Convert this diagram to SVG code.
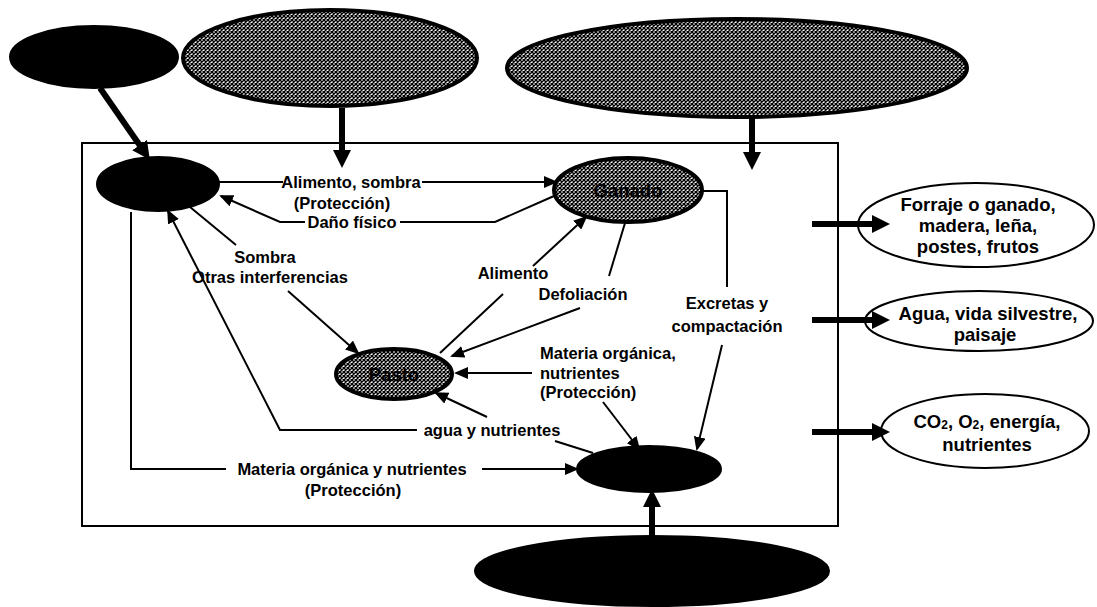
<svg xmlns="http://www.w3.org/2000/svg" width="1097" height="607" viewBox="0 0 1097 607">
<style>
.lbl{font-family:"Liberation Sans",Arial,sans-serif;font-weight:bold;font-size:16.5px;fill:#000;dominant-baseline:central}
.out{font-family:"Liberation Sans",Arial,sans-serif;font-weight:bold;font-size:18.5px;fill:#000;text-anchor:middle;dominant-baseline:central}
.mid{text-anchor:middle}
.thin{fill:none;stroke:#000;stroke-width:2}
.thinA{fill:none;stroke:#000;stroke-width:2;marker-end:url(#ah)}
.thick{fill:none;stroke:#000;stroke-width:6;marker-end:url(#ahb)}
.blk{fill:#000;stroke:#000;stroke-width:2}
.hat{fill:url(#hatch);stroke:#000;stroke-width:4}
.outE{fill:#fff;stroke:#000;stroke-width:2}
</style>
<defs>
<pattern id="hatch" patternUnits="userSpaceOnUse" width="4" height="4">
<rect width="4" height="4" fill="#fff"/>
<path d="M0,0 L4,4 M4,0 L0,4" stroke="#000" stroke-width="1.4"/>
</pattern>
<marker id="ah" markerUnits="userSpaceOnUse" markerWidth="15" markerHeight="12" refX="12" refY="6" orient="auto">
<path d="M0,0 L14,6 L0,12 z" fill="#000"/>
</marker>
<marker id="ahb" markerUnits="userSpaceOnUse" markerWidth="19" markerHeight="18" refX="6" refY="9" orient="auto">
<path d="M0,0 L18,9 L0,18 z" fill="#000"/>
</marker>
</defs>
<rect x="82" y="143" width="756" height="383" fill="none" stroke="#000" stroke-width="2"/>
<g id="n-topleft"><ellipse class="blk" cx="94" cy="57" rx="84" ry="31"/></g>
<g id="n-topmid"><ellipse class="hat" cx="330" cy="58" rx="147" ry="48"/></g>
<g id="n-topright"><ellipse class="hat" cx="737" cy="68" rx="230" ry="49"/></g>
<g id="n-arbol"><ellipse class="blk" cx="158" cy="184" rx="61" ry="27"/></g>
<g id="n-ganado"><ellipse class="hat" cx="628" cy="190" rx="74" ry="32" stroke-width="3"/><text class="out" x="628" y="190" fill="#222">Ganado</text></g>
<g id="n-pasto"><ellipse class="hat" cx="394" cy="374" rx="58" ry="25" stroke-width="3"/><text class="out" x="394" y="374" fill="#222">Pasto</text></g>
<g id="n-suelo"><ellipse class="blk" cx="649" cy="469" rx="72" ry="23"/></g>
<g id="n-bottom"><ellipse class="blk" cx="652" cy="571" rx="177" ry="35"/></g>
<g id="n-out1"><ellipse class="outE" cx="976" cy="225" rx="118" ry="42"/>
<text class="out" x="978" y="204">Forraje o ganado,</text>
<text class="out" x="978" y="225">madera, leña,</text>
<text class="out" x="978" y="246">postes, frutos</text></g>
<g id="n-out2"><ellipse class="outE" cx="979" cy="321" rx="114" ry="30"/>
<text class="out" x="988" y="313">Agua, vida silvestre,</text>
<text class="out" x="985" y="334">paisaje</text></g>
<g id="n-out3"><ellipse class="outE" cx="985" cy="431" rx="104" ry="37"/>
<text class="out" x="987" y="421">CO<tspan font-size="12" dy="4">2</tspan><tspan dy="-4">, O</tspan><tspan font-size="12" dy="4">2</tspan><tspan dy="-4">, energía,</tspan></text>
<text class="out" x="987" y="444">nutrientes</text></g>
<g id="connectors">
<path class="thick" d="M100,88 L143,150"/>
<path class="thick" d="M342,108 L342,156"/>
<path class="thick" d="M752,118 L752,158"/>
<path class="thick" d="M652,540 L652,501"/>
<path class="thick" d="M812,224 L878,224"/>
<path class="thick" d="M812,320 L878,320"/>
<path class="thick" d="M812,432 L878,432"/>
<path class="thin" d="M219,182 H283"/>
<path class="thinA" d="M422,182 H556"/>
<path class="thin" d="M554,196 L495,222 H400"/>
<path class="thinA" d="M305,222 H280 L221,196"/>
<path class="thin" d="M190,207 L236,245"/>
<path class="thinA" d="M288,291 L358,353"/>
<path class="thin" d="M440,353 L503,294"/>
<path class="thinA" d="M533,266 L586,217"/>
<path class="thin" d="M625,223 L609,276"/>
<path class="thinA" d="M580,308 L452,356"/>
<path class="thin" d="M703,191 H727 V287"/>
<path class="thinA" d="M722,345 L697,449"/>
<path class="thinA" d="M532,373 H456"/>
<path class="thinA" d="M603,402 L639,449"/>
<path class="thin" d="M555,441 L593,453"/>
<path class="thinA" d="M487,417 L436,393"/>
<path class="thinA" d="M417,430 H280 L168,211"/>
<path class="thin" d="M131,212 V469 H226"/>
<path class="thinA" d="M482,469 H577"/>
<text class="lbl mid" x="351" y="182">Alimento, sombra</text>
<text class="lbl mid" x="342" y="203">(Protección)</text>
<text class="lbl mid" x="352" y="222">Daño físico</text>
<text class="lbl mid" x="265" y="257">Sombra</text>
<text class="lbl mid" x="270" y="277">Otras interferencias</text>
<text class="lbl mid" x="513" y="273">Alimento</text>
<text class="lbl mid" x="583" y="294">Defoliación</text>
<text class="lbl mid" x="727" y="303">Excretas y</text>
<text class="lbl mid" x="727" y="326">compactación</text>
<text class="lbl" x="540" y="353">Materia orgánica,</text>
<text class="lbl" x="540" y="373">nutrientes</text>
<text class="lbl" x="540" y="392">(Protección)</text>
<text class="lbl mid" x="492" y="430">agua y nutrientes</text>
<text class="lbl mid" x="352" y="469">Materia orgánica y nutrientes</text>
<text class="lbl mid" x="353" y="490">(Protección)</text>
</g>
</svg>
